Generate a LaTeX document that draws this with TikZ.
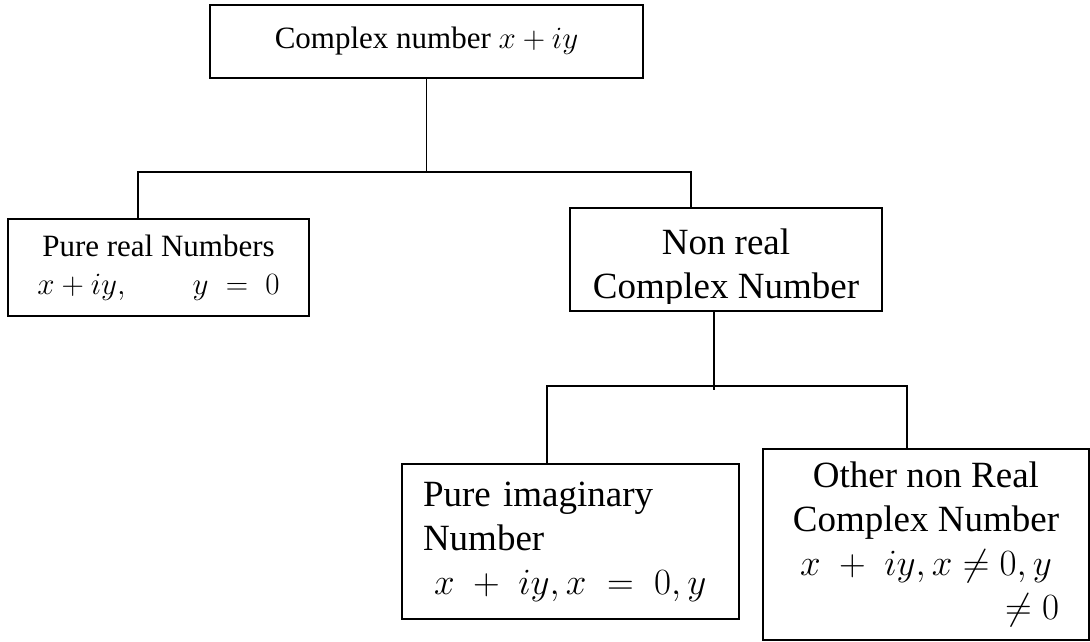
\RequirePackage{fix-cm}
\documentclass[tikz,border=0pt]{standalone}
\usepackage{fontspec}
\setmainfont{Liberation Serif}
\usetikzlibrary{positioning, calc}

\begin{document}
\begin{tikzpicture}[x=1pt, y=-1pt, line width=2pt]

% ------------------- styles -------------------
\tikzstyle{box} = [draw, rectangle, align=center, inner sep=0pt]
\tikzstyle{branch} = [draw, line width=1.8pt]
\tikzstyle{smalltxt} = [font=\fontsize{31}{38}\selectfont]
\tikzstyle{bigtxt} = [font=\fontsize{37}{44}\selectfont]

\useasboundingbox (0,0) rectangle (1090,641);

% ------------------- top level -------------------
\node[box, smalltxt, minimum width=433pt, minimum height=73pt] (complex) at (426.5,41.5) {Complex number $x+iy$};

% ------------------- second level -------------------
\node[box, smalltxt, minimum width=301pt, minimum height=97pt] (real) at (158.5,267.5) {Pure real Numbers\\ $x+iy,\qquad y\;=\;0$};

\node[box, minimum width=312pt, minimum height=103pt] (nonreal) at (726,259.5) {};
\begin{scope}
\clip (nonreal.north west) rectangle ($(nonreal.south east)+(0,-9)$);
\node[bigtxt, align=center, anchor=north, inner sep=0pt] (nonrealtxt) at (726,228) {Non real\\Complex Number};
\end{scope}

% ------------------- third level -------------------
\node[box, bigtxt, align=left, text width=295pt, inner xsep=21pt, minimum height=155pt] (imag) at (570.5,541.5) {Pure imaginary\\Number\\\hspace*{0.3em}$x\;+\;iy, x\;=\;0, y$};

\node[box, bigtxt, minimum width=326pt, minimum height=191pt] (other) at (926,544.5) {\begin{tabular}{@{}c@{}}Other non Real\\Complex Number\\$x\;+\;iy, x\neq0, y$\\\hfill$\neq0$\end{tabular}};

% ------------------- connectors -------------------
\coordinate (jl) at (138,172);
\coordinate (jr) at (691,172);
\draw[branch] (complex.south) -- (complex.south |- jl);
\draw[branch] (jl |- real.north) -- (jl) -- (jr) -- (jr |- nonreal.north);

\coordinate (kl) at (547,386);
\coordinate (kr) at (907,386);
\coordinate (kstem) at (714,390);
\draw[branch] (kstem |- nonreal.south) -- (kstem);
\draw[branch] (kl |- imag.north) -- (kl) -- (kr) -- (kr |- other.north);

\end{tikzpicture}
\end{document}
